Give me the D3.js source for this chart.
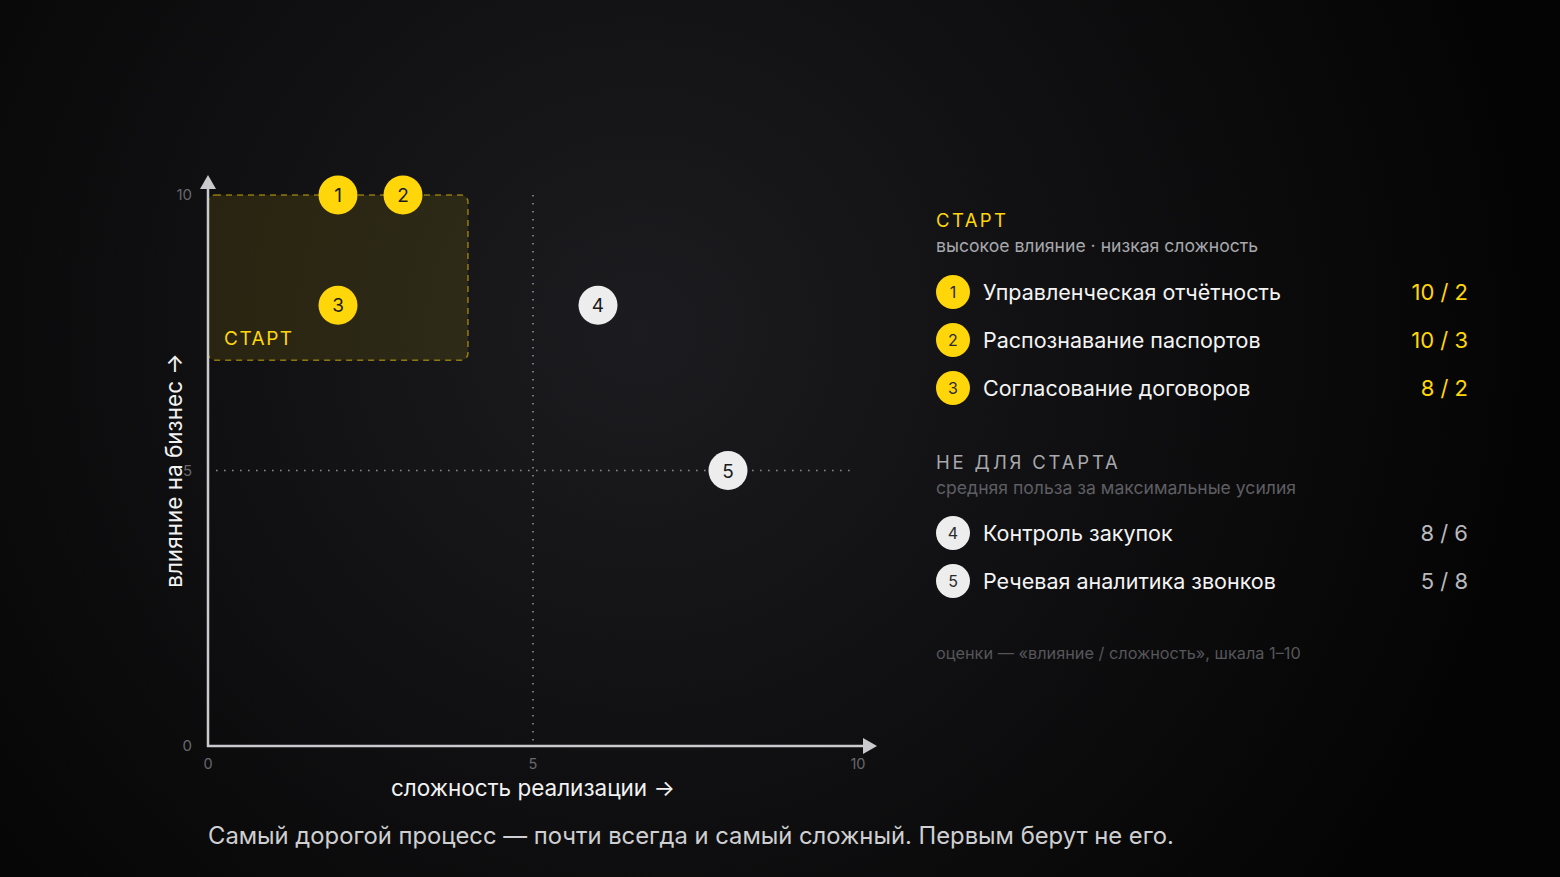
<!DOCTYPE html>
<html><head><meta charset="utf-8">
<script src="https://cdn.jsdelivr.net/npm/d3@7"></script>
<style>
html,body{margin:0;padding:0;background:#060606;}
svg{display:block;font-family:Inter,"Noto Sans",sans-serif;}
</style></head>
<body>
<svg id="c" width="1560" height="877"></svg>
<script>
// Data
const ids = [1, 2, 3, 4, 5];
const names = ["Управленческая отчётность", "Распознавание паспортов", "Согласование договоров", "Контроль закупок", "Речевая аналитика звонков"];
const impact = [10, 10, 8, 8, 5];       // влияние (y)
const complexity = [2, 3, 2, 6, 8];     // сложность (x)
const isStart = [true, true, true, false, false];
const xTicks = [0, 5, 10];
const yTicks = [0, 5, 10];
const startZone = {x0: 0, x1: 4, y0: 7, y1: 10};

const YEL = "#ffd60a";
const svg = d3.select("#c");

// background
const defs = svg.append("defs");
const rg = defs.append("radialGradient").attr("id", "bg").attr("gradientUnits", "userSpaceOnUse")
  .attr("cx", 640).attr("cy", 330).attr("r", 900);
rg.append("stop").attr("offset", "0").attr("stop-color", "#1c1c20");
rg.append("stop").attr("offset", "0.45").attr("stop-color", "#111113");
rg.append("stop").attr("offset", "1").attr("stop-color", "#040404");
svg.append("rect").attr("width", 1560).attr("height", 877).attr("fill", "url(#bg)");

const x = d3.scaleLinear().domain([0, 10]).range([208, 858]);
const y = d3.scaleLinear().domain([0, 10]).range([746, 195]);

// start zone
svg.append("rect")
  .attr("x", x(startZone.x0)).attr("y", y(startZone.y1))
  .attr("width", x(startZone.x1) - x(startZone.x0))
  .attr("height", y(startZone.y0) - y(startZone.y1))
  .attr("rx", 7)
  .attr("fill", "rgba(255,214,10,0.1)")
  .attr("stroke", "rgba(255,214,10,0.5)")
  .attr("stroke-width", 1.5)
  .attr("stroke-dasharray", "6 5");
svg.append("text").attr("x", x(startZone.x0) + 16).attr("y", y(startZone.y0) - 15)
  .attr("fill", YEL).attr("font-size", 19).attr("letter-spacing", 1.5).text("СТАРТ");

// dotted midlines
svg.append("line").attr("x1", x(5)).attr("x2", x(5)).attr("y1", y(10)).attr("y2", y(0))
  .attr("stroke", "#8a8a90").attr("stroke-width", 1.6).attr("stroke-dasharray", "1.6 6.4");
svg.append("line").attr("x1", x(0) + 8).attr("x2", x(10) - 4).attr("y1", y(5)).attr("y2", y(5))
  .attr("stroke", "#8a8a90").attr("stroke-width", 1.6).attr("stroke-dasharray", "1.6 6.4");

// axes
const AX = "#c9c9ce";
svg.append("line").attr("x1", x(0)).attr("x2", x(0)).attr("y1", y(0) + 1).attr("y2", 186)
  .attr("stroke", AX).attr("stroke-width", 2.5);
svg.append("path").attr("d", `M${x(0)-8},${189} L${x(0)},${175} L${x(0)+8},${189} Z`).attr("fill", AX);
svg.append("line").attr("x1", x(0) - 1).attr("x2", 866).attr("y1", y(0)).attr("y2", y(0))
  .attr("stroke", AX).attr("stroke-width", 2.5);
svg.append("path").attr("d", `M${863},${y(0)-8} L${877},${y(0)} L${863},${y(0)+8} Z`).attr("fill", AX);

// tick labels
svg.selectAll(".xt").data(xTicks).join("text")
  .attr("x", d => x(d)).attr("y", 769).attr("text-anchor", "middle")
  .attr("fill", "#68686d").attr("font-size", 14.5).text(d => d);
svg.selectAll(".yt").data(yTicks).join("text")
  .attr("x", 192).attr("y", d => y(d) + 5).attr("text-anchor", "end")
  .attr("fill", "#68686d").attr("font-size", 15).text(d => d);

// axis titles
svg.append("text").attr("x", x(5)).attr("y", 796).attr("text-anchor", "middle")
  .attr("fill", "#f2f2f2").attr("font-size", 22.5).text("сложность реализации →");
svg.append("text").attr("transform", `translate(182,${y(5)}) rotate(-90)`).attr("text-anchor", "middle")
  .attr("fill", "#f2f2f2").attr("font-size", 22.5).text("влияние на бизнес →");

// points
const pts = ids.map((id, i) => ({id, x: complexity[i], y: impact[i], s: isStart[i]}));
const g = svg.selectAll(".pt").data(pts).join("g").attr("transform", d => `translate(${x(d.x)},${y(d.y)})`);
g.append("circle").attr("r", 19.5).attr("fill", d => d.s ? YEL : "#ededee");
g.append("text").attr("text-anchor", "middle").attr("dy", 7).attr("font-size", 19)
  .attr("fill", "#1a1a1a").text(d => d.id);

// legend
const LX = 936, RX = 1468;
svg.append("text").attr("x", LX).attr("y", 227).attr("fill", YEL).attr("font-size", 18.5)
  .attr("letter-spacing", 2.4).text("СТАРТ");
svg.append("text").attr("x", LX).attr("y", 252).attr("fill", "#a8a8ad").attr("font-size", 17.6)
  .text("высокое влияние · низкая сложность");
svg.append("text").attr("x", LX).attr("y", 469).attr("fill", "#a8a8ad").attr("font-size", 18.5)
  .attr("letter-spacing", 2.8).text("НЕ ДЛЯ СТАРТА");
svg.append("text").attr("x", LX).attr("y", 494).attr("fill", "#5e5e63").attr("font-size", 17.6)
  .text("средняя польза за максимальные усилия");

const rowY = [292, 340, 388, 533, 581];
const rows = svg.selectAll(".row").data(pts).join("g").attr("transform", (d, i) => `translate(0,${rowY[i]})`);
rows.append("circle").attr("cx", 953).attr("r", 17).attr("fill", d => d.s ? YEL : "#ededee");
rows.append("text").attr("x", 953).attr("dy", 6).attr("text-anchor", "middle").attr("font-size", 16)
  .attr("fill", "#2a2a2a").text(d => d.id);
rows.append("text").attr("x", 983).attr("dy", 7.5).attr("font-size", 21.5).attr("fill", "#f4f4f4")
  .text((d, i) => names[i]);
rows.append("text").attr("x", RX).attr("dy", 7.5).attr("text-anchor", "end").attr("font-size", 22)
  .attr("fill", d => d.s ? YEL : "#b9b9be").text(d => `${d.y} / ${d.x}`);

svg.append("text").attr("x", LX).attr("y", 659).attr("fill", "#56565b").attr("font-size", 16.3)
  .text("оценки — «влияние / сложность», шкала 1–10");

// footer
svg.append("text").attr("x", 208).attr("y", 844).attr("fill", "#cfcfd2").attr("font-size", 23.8)
  .text("Самый дорогой процесс — почти всегда и самый сложный. Первым берут не его.");
</script>
</body></html>
